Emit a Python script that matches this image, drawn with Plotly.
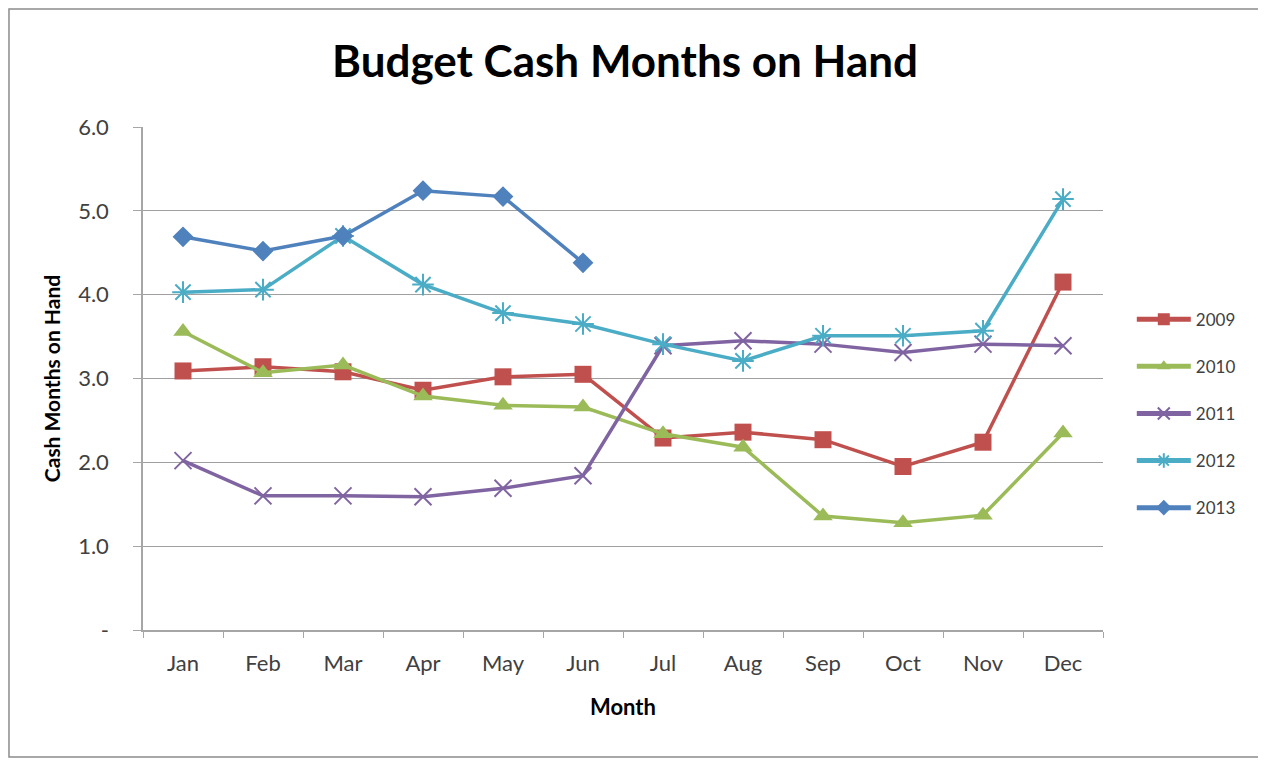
import plotly.graph_objects as go

months = ["Jan", "Feb", "Mar", "Apr", "May", "Jun", "Jul", "Aug", "Sep", "Oct", "Nov", "Dec"]
y2009 = [3.09, 3.14, 3.08, 2.86, 3.02, 3.05, 2.29, 2.36, 2.27, 1.95, 2.24, 4.15]
y2010 = [3.56, 3.07, 3.16, 2.79, 2.68, 2.66, 2.34, 2.18, 1.36, 1.28, 1.37, 2.35]
y2011 = [2.02, 1.60, 1.60, 1.59, 1.69, 1.84, 3.39, 3.45, 3.41, 3.31, 3.41, 3.39]
y2012 = [4.03, 4.06, 4.70, 4.12, 3.78, 3.65, 3.41, 3.21, 3.51, 3.51, 3.57, 5.14]
y2013 = [4.69, 4.52, 4.70, 5.24, 5.17, 4.38]
ytick_vals = [0, 1, 2, 3, 4, 5, 6]
ytick_text = ["-", "1.0", "2.0", "3.0", "4.0", "5.0", "6.0"]

FONT = "Lato, 'Open Sans', sans-serif"

series = [
    ("2009", y2009, "#C0504D", dict(symbol="square", size=17)),
    ("2010", y2010, "#9BBB59", dict(symbol="triangle-up", size=17)),
    ("2011", y2011, "#8064A2", dict(symbol="x-thin-open", size=17, line=dict(width=2, color="#8064A2"))),
    ("2012", y2012, "#4BACC6", dict(symbol="asterisk-open", size=18, line=dict(width=2, color="#4BACC6"))),
    ("2013", y2013, "#4F81BD", dict(symbol="diamond", size=16)),
]

fig = go.Figure()
for name, vals, color, mk in series:
    marker = dict(color=color, **mk)
    fig.add_trace(go.Scatter(
        x=months[:len(vals)], y=vals, name=name, mode="lines+markers",
        line=dict(color=color, width=3.5), marker=marker, legendgroup=name,
    ))

fig.update_layout(
    width=1258, height=752,
    margin=dict(l=135, r=163, t=119, b=130),
    paper_bgcolor="white", plot_bgcolor="white",
    font=dict(family=FONT, color="#404040"),
    title=dict(text="<b>Budget Cash Months on Hand</b>", x=0.4905, xanchor="center",
               y=0.929, yanchor="middle", font=dict(size=44, color="#000000", family=FONT)),
    showlegend=True,
    legend=dict(x=1.03, xanchor="left", y=0.43, yanchor="middle",
                font=dict(size=17, color="#404040", family=FONT),
                tracegroupgap=22, traceorder="grouped", itemwidth=54, itemsizing="constant"),
    xaxis=dict(
        type="category", categoryorder="array", categoryarray=months,
        range=[-0.5, 11.5], showline=True, linecolor="#A6A6A6", linewidth=1.5,
        ticks="outside", ticklen=6, tickcolor="#A6A6A6", tickson="boundaries",
        showgrid=False, tickfont=dict(size=22, color="#404040"), ticklabelstandoff=13,
        title=dict(text="<b>Month</b>", font=dict(size=22, color="#000000"), standoff=24),
    ),
    yaxis=dict(
        range=[0, 6], tickvals=ytick_vals, ticktext=ytick_text,
        showline=True, linecolor="#A6A6A6", linewidth=1.5,
        ticks="outside", ticklen=8, tickcolor="#A6A6A6",
        showgrid=True, gridcolor="#A0A0A0", gridwidth=1, zeroline=False,
        tickfont=dict(size=22, color="#404040"), ticklabelstandoff=20,
        title=dict(text="<b>Cash Months on Hand</b>", font=dict(size=21, color="#000000"), standoff=12),
    ),
    shapes=[dict(type="rect", xref="paper", yref="paper",
                 x0=-0.1396, x1=1.1656, y0=-0.2525, y1=1.2346,
                 line=dict(color="#8C8C8C", width=1.5), fillcolor="rgba(0,0,0,0)", layer="below")],
)

fig.write_html("out.html")
